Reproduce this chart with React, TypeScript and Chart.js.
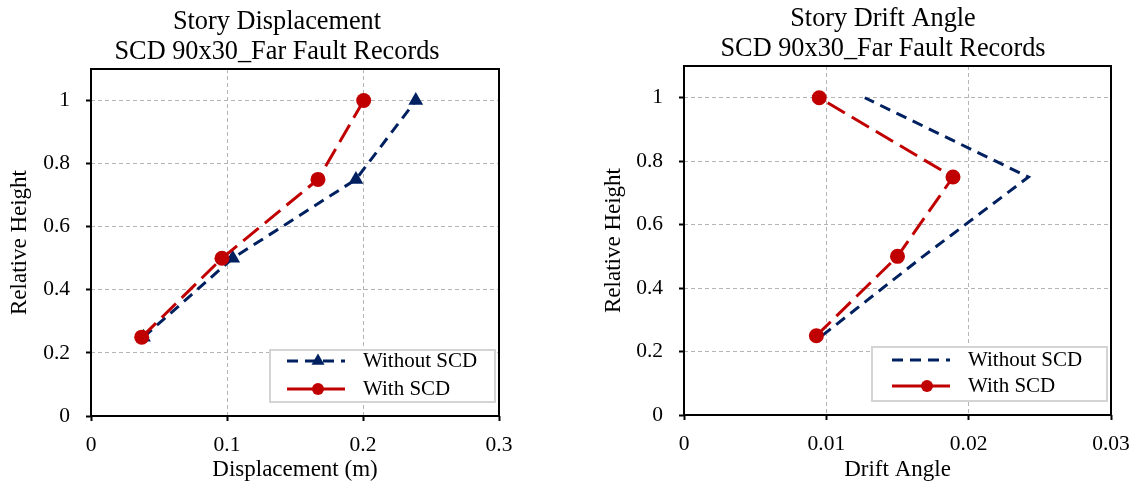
import React, { useEffect, useRef } from 'react';
import { Chart, registerables } from 'chart.js';

Chart.register(...registerables);

// ---------- data ----------
const relativeHeight = [0.25, 0.5, 0.75, 1.0];
const dispWithoutSCD = [0.0386, 0.1042, 0.1948, 0.2388];
const dispWithSCD = [0.0373, 0.0963, 0.1669, 0.2005];
const driftWithoutSCD = [0.0097, 0.0168, 0.0242, 0.0127];
const driftWithSCD = [0.0093, 0.015, 0.0189, 0.0095];
const seriesLabels = ['Without SCD', 'With SCD'];
const dispTitle = ['Story Displacement', 'SCD 90x30_Far Fault Records'];
const driftTitle = ['Story Drift Angle', 'SCD 90x30_Far Fault Records'];
const yTickValues = [0, 0.2, 0.4, 0.6, 0.8, 1];
const dispTickValues = [0, 0.1, 0.2, 0.3];
const driftTickValues = [0, 0.01, 0.02, 0.03];
const yAxisTitle = 'Relative Height';
const dispAxisTitle = 'Displacement (m)';
const driftAxisTitle = 'Drift Angle';

const FONT = "'Liberation Serif', 'Times New Roman', serif";
const NAVY = '#002060';
const RED = '#C00000';

// ---------- plugins ----------
const framePlugin = {
  id: 'frame',
  beforeDatasetsDraw(chart: any) {
    const { ctx, chartArea: a } = chart;
    ctx.save();
    ctx.strokeStyle = '#000';
    ctx.lineWidth = 2;
    ctx.setLineDash([]);
    ctx.strokeRect(a.left, a.top, a.right - a.left, a.bottom - a.top);
    ctx.restore();
  },
};

// chart title centred on a given x (the reference centres it over the whole chart incl. axis labels)
const centerTitlePlugin = {
  id: 'centerTitle',
  afterDraw(chart: any, _args: any, o: any) {
    const { ctx } = chart;
    ctx.save();
    ctx.fillStyle = '#000';
    ctx.font = `${o.size}px ${FONT}`;
    ctx.textAlign = 'center';
    ctx.textBaseline = 'middle';
    (o.text as string[]).forEach((line, i) => {
      ctx.fillText(line, o.x, o.y + i * o.lineHeight);
    });
    ctx.restore();
  },
};

function drawMarker(ctx: CanvasRenderingContext2D, style: string, x: number, y: number, r: number, color: string) {
  ctx.save();
  ctx.fillStyle = color;
  ctx.beginPath();
  if (style === 'triangle') {
    ctx.moveTo(x, y - r);
    ctx.lineTo(x + r * 0.866, y + r * 0.5);
    ctx.lineTo(x - r * 0.866, y + r * 0.5);
    ctx.closePath();
  } else {
    ctx.arc(x, y, r, 0, Math.PI * 2);
  }
  ctx.fill();
  ctx.restore();
}

const boxLegendPlugin = {
  id: 'boxLegend',
  afterDraw(chart: any, _args: any, o: any) {
    const { ctx, chartArea: a } = chart;
    const left = a.right - o.rightInset - o.width;
    const top = a.bottom - o.bottomInset - o.height;
    ctx.save();
    ctx.fillStyle = '#fff';
    ctx.fillRect(left, top, o.width, o.height);
    ctx.strokeStyle = '#d4d4d4';
    ctx.lineWidth = 2;
    ctx.strokeRect(left, top, o.width, o.height);
    chart.data.datasets.forEach((ds: any, i: number) => {
      const y = top + o.rows[i];
      const x0 = left + o.sampleStart;
      ctx.strokeStyle = ds.borderColor;
      ctx.lineWidth = ds.borderWidth;
      ctx.setLineDash(ds.legendDash || []);
      ctx.beginPath();
      ctx.moveTo(x0, y);
      ctx.lineTo(x0 + o.sampleLength, y);
      ctx.stroke();
      ctx.setLineDash([]);
      if (ds.pointRadius > 0) {
        drawMarker(ctx, ds.pointStyle, left + o.markerX, y, ds.legendMarker, ds.borderColor);
      }
      ctx.fillStyle = '#000';
      ctx.font = `21px ${FONT}`;
      ctx.textBaseline = 'middle';
      ctx.textAlign = 'left';
      ctx.fillText(ds.label, left + o.textX, y);
    });
    ctx.restore();
  },
};

// ---------- config builder ----------
function buildConfig(spec: any) {
  const without = relativeHeight.map((h, i) => ({ x: spec.withoutData[i], y: h }));
  const withS = relativeHeight.map((h, i) => ({ x: spec.withData[i], y: h }));
  const tickFont = { family: FONT, size: 21.5 };
  const grid = {
    color: '#b4b4b4',
    lineWidth: 1,
    drawTicks: true,
    tickLength: 5,
    tickColor: '#000',
    tickWidth: 2,
    tickBorderDash: [],
  };
  return {
    type: 'line',
    data: {
      datasets: [
        {
          label: seriesLabels[0],
          data: without,
          borderColor: NAVY,
          backgroundColor: NAVY,
          borderWidth: 3,
          borderDash: [11, 7],
          legendDash: [11, 7],
          pointStyle: 'triangle',
          pointRadius: spec.withoutMarkers ? 8.5 : 0,
          legendMarker: 7.5,
          pointBackgroundColor: NAVY,
          pointBorderColor: NAVY,
          pointBorderWidth: 0,
          tension: 0,
          fill: false,
          order: 1,
        },
        {
          label: seriesLabels[1],
          data: withS,
          borderColor: RED,
          backgroundColor: RED,
          borderWidth: 3,
          borderDash: [20, 8],
          legendDash: [],
          pointStyle: 'circle',
          pointRadius: 7.5,
          legendMarker: 6,
          pointBackgroundColor: RED,
          pointBorderColor: RED,
          pointBorderWidth: 0,
          tension: 0,
          fill: false,
          order: 0,
        },
      ],
    },
    options: {
      responsive: false,
      animation: false,
      events: [],
      devicePixelRatio: 1,
      layout: { padding: spec.layoutPadding },
      plugins: {
        legend: { display: false },
        tooltip: { enabled: false },
        title: { display: false },
        centerTitle: spec.titleOpts,
        boxLegend: spec.legend,
      },
      scales: {
        x: {
          type: 'linear',
          min: 0,
          max: spec.xMax,
          afterBuildTicks: (s: any) => {
            s.ticks = spec.xTicks.map((v: number) => ({ value: v }));
          },
          afterFit: (s: any) => {
            s.height = spec.xAxisHeight;
            s.paddingLeft = 0;
            s.paddingRight = 0;
          },
          ticks: {
            color: '#000',
            font: tickFont,
            padding: 11,
            maxRotation: 0,
            autoSkip: false,
            callback: (v: number) => String(v),
          },
          grid,
          border: { display: false, dash: [4, 3] },
          title: {
            display: true,
            text: spec.xTitle,
            color: '#000',
            font: { family: FONT, size: 23 },
            padding: { top: 0, bottom: 4 },
          },
        },
        y: {
          type: 'linear',
          min: 0,
          max: 1.1,
          afterBuildTicks: (s: any) => {
            s.ticks = yTickValues.map((v: number) => ({ value: v }));
          },
          afterFit: (s: any) => {
            s.width = spec.yAxisWidth;
            s.paddingTop = 0;
            s.paddingBottom = 0;
          },
          ticks: {
            color: '#000',
            font: tickFont,
            padding: 16,
            autoSkip: false,
            callback: (v: number) => String(v),
          },
          grid,
          border: { display: false, dash: [4, 3] },
          title: {
            display: true,
            text: yAxisTitle,
            color: '#000',
            font: { family: FONT, size: 23 },
            padding: { top: spec.yTitlePad, bottom: 0 },
          },
        },
      },
    },
    plugins: [framePlugin, centerTitlePlugin, boxLegendPlugin],
  };
}

const leftSpec = {
  withoutData: dispWithoutSCD,
  withData: dispWithSCD,
  withoutMarkers: true,
  xMax: 0.3,
  xTicks: dispTickValues,
  xTitle: dispAxisTitle,
  titleOpts: { text: dispTitle, x: 277, y: 22.5, lineHeight: 30, size: 26.3 },
  layoutPadding: { left: 0, right: 61, top: 69, bottom: 0 },
  yAxisWidth: 91,
  yTitlePad: 6.2,
  xAxisHeight: 72,
  legend: {
    rightInset: 4,
    bottomInset: 14,
    width: 225,
    height: 52,
    rows: [11, 39],
    sampleStart: 17,
    sampleLength: 58,
    markerX: 48,
    textX: 93,
  },
};

const rightSpec = {
  withoutData: driftWithoutSCD,
  withData: driftWithSCD,
  withoutMarkers: false,
  xMax: 0.03,
  xTicks: driftTickValues,
  xTitle: driftAxisTitle,
  titleOpts: { text: driftTitle, x: 316, y: 19.5, lineHeight: 30, size: 26.3 },
  layoutPadding: { left: 0, right: 26, top: 66, bottom: 0 },
  yAxisWidth: 117,
  yTitlePad: 32.7,
  xAxisHeight: 73,
  legend: {
    rightInset: 4,
    bottomInset: 14,
    width: 235,
    height: 54,
    rows: [13, 39],
    sampleStart: 20,
    sampleLength: 58,
    markerX: 55,
    textX: 96,
  },
};

function ChartCanvas({ spec, left, width }: { spec: any; left: number; width: number }) {
  const ref = useRef<HTMLCanvasElement>(null);
  useEffect(() => {
    if (!ref.current) return;
    const chart = new Chart(ref.current, buildConfig(spec) as any);
    return () => chart.destroy();
  }, [spec]);
  return (
    <canvas
      ref={ref}
      width={width}
      height={488}
      style={{ position: 'absolute', left, top: 0, width, height: 488, display: 'block' }}
    />
  );
}

export default function App() {
  return (
    <div style={{ position: 'absolute', left: 0, top: 0, width: 1137, height: 488, background: '#fff', overflow: 'hidden' }}>
      <ChartCanvas spec={leftSpec} left={0} width={560} />
      <ChartCanvas spec={rightSpec} left={567} width={570} />
    </div>
  );
}
